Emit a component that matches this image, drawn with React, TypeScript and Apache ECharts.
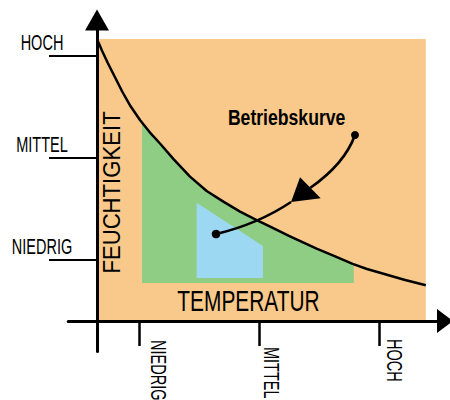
import React, { useEffect, useRef } from "react";
import * as echarts from "echarts";

// ---- data (axis units) ----
const xTickLabels = ["NIEDRIG", "MITTEL", "HOCH"];
const xTickValues = [35, 135, 235];
const yTickLabels = ["NIEDRIG", "MITTEL", "HOCH"];
const yTickValues = [60, 160, 260];

const xName = "TEMPERATUR";
const yName = "FEUCHTIGKEIT";
const curveName = "Betriebskurve";

// operating curve (Betriebskurve)
const curvePoints = [
  [0, 276], [2, 271], [4, 265.5], [9, 253], [15, 239], [21, 225], [28, 210.5],
  [35.8, 197], [44, 185], [52.5, 174], [63.6, 159], [77.5, 141.5], [91.4, 127.5],
  [105.3, 117], [119.2, 107.2], [133.1, 99], [146.9, 91], [160.8, 83],
  [169, 78.5], [183, 71], [197, 64], [213, 56], [225, 51], [238, 46.5],
  [256, 40.5], [274, 35],
];
// orange background region (top edge, filled to 0)
const orangeTop = [[0.8, 276.5], [274, 276.5]];
const orangeBase = 0;
// green region (top edge follows curve)
const greenTop = [
  [37.5, 194.7], [44, 185], [52.5, 174], [63.6, 159], [77.5, 141.5], [91.4, 127.5],
  [105.3, 117], [119.2, 107.2], [133.1, 99], [146.9, 91], [160.8, 83],
  [169, 78.5], [183, 71], [197, 64], [214, 55.5],
];
const greenBase = 37.3;
// blue region
const blueTop = [[83, 116], [138.3, 73.5]];
const blueBase = 42.2;

// annotation anchors (axis units)
const annDotStart = [215, 182.4];
const annCp1 = [206.5, 154.3];
const annArrowBase = [177.8, 130.6];
const annArrowTip = [161.7, 116.7];
const annArrowC1 = [169.2, 140.9];
const annArrowC2 = [186.4, 120.3];
const annCp2 = [134.2, 95.1];
const annDotEnd = [99.2, 85.3];
const annLabelPos = [158, 200];
const xNamePos = [126.2, 20.3];
const yNamePos = [12.25, 126];

// ---- style ----
const ORANGE = "#F8C98A";
const GREEN = "#8FCD84";
const BLUE = "#9DD8F3";
const INK = "#000000";
const FONT = "'Liberation Sans', Arial, sans-serif";

const option: any = {
  animation: false,
  grid: { left: 68.2, top: 20.1, width: 376.8, height: 331.5, containLabel: false },
  xAxis: {
    type: "value",
    min: -24,
    max: 290,
    z: 10,
    splitLine: { show: false },
    axisLabel: { show: false },
    axisLine: {
      show: true,
      onZero: true,
      symbol: ["none", "triangle"],
      symbolSize: [24, 16],
      lineStyle: { color: INK, width: 3 },
    },
    axisTick: {
      show: true,
      customValues: xTickValues,
      length: 25,
      lineStyle: { color: INK, width: 2.5 },
    },
  },
  yAxis: {
    type: "value",
    min: -30,
    max: 295,
    z: 10,
    splitLine: { show: false },
    axisLabel: { show: false },
    axisLine: {
      show: true,
      onZero: true,
      symbol: ["none", "triangle"],
      symbolSize: [24, 21],
      lineStyle: { color: INK, width: 3 },
    },
    axisTick: {
      show: true,
      customValues: yTickValues,
      length: 48,
      lineStyle: { color: INK, width: 2 },
    },
  },
  series: [
    {
      type: "line",
      data: orangeTop,
      symbol: "none",
      silent: true,
      lineStyle: { width: 0, opacity: 0 },
      areaStyle: { color: ORANGE, opacity: 1, origin: orangeBase },
      z: 1,
    },
    {
      type: "line",
      data: greenTop,
      symbol: "none",
      smooth: false,
      silent: true,
      lineStyle: { width: 0, opacity: 0 },
      areaStyle: { color: GREEN, opacity: 1, origin: greenBase },
      z: 2,
    },
    {
      type: "line",
      data: blueTop,
      symbol: "none",
      silent: true,
      lineStyle: { width: 0, opacity: 0 },
      areaStyle: { color: BLUE, opacity: 1, origin: blueBase },
      z: 3,
    },
    {
      type: "line",
      name: curveName,
      data: curvePoints,
      symbol: "none",
      smooth: false,
      silent: true,
      lineStyle: { color: INK, width: 2.5, join: "round" },
      z: 4,
    },
  ],
};

function textEl(text: string, pos: number[], o: any) {
  return {
    type: "text",
    x: pos[0],
    y: pos[1],
    rotation: o.rotation || 0,
    scaleX: o.scaleX || 1,
    scaleY: o.scaleY || 1,
    z: 100,
    style: {
      text,
      fill: INK,
      fontFamily: FONT,
      fontSize: o.fontSize,
      fontWeight: o.fontWeight || "normal",
      align: o.align || "center",
      textAlign: o.align || "center",
      verticalAlign: "middle",
      textVerticalAlign: "middle",
    },
  };
}

export default function App() {
  const ref = useRef<HTMLDivElement>(null);
  useEffect(() => {
    const chart = echarts.init(ref.current as HTMLDivElement, null, { renderer: "svg" });
    chart.setOption(option);
    const p = (v: number[]) => chart.convertToPixel({ gridIndex: 0 }, v) as number[];
    const origin = p([0, 0]);
    const els: any[] = [];

    // y tick labels
    yTickValues.forEach((v, i) => {
      const q = p([0, v]);
      els.push(textEl(yTickLabels[i], [origin[0] - 55, q[1] - 13], { fontSize: 22, scaleX: 0.66 }));
    });
    // x tick labels (rotated, reading downward)
    const xdx = [20, 13, 16];
    const xdy = [19, 26, 18];
    xTickValues.forEach((v, i) => {
      const q = p([v, 0]);
      els.push(
        textEl(xTickLabels[i], [q[0] + xdx[i], origin[1] + xdy[i]], {
          fontSize: 22,
          scaleX: 0.66,
          rotation: -Math.PI / 2,
          align: "left",
        })
      );
    });
    // axis names
    els.push(textEl(xName, p(xNamePos), { fontSize: 29, scaleX: 0.72 }));
    els.push(textEl(yName, p(yNamePos), { fontSize: 23.3, scaleX: 0.95, rotation: Math.PI / 2 }));
    // annotation
    els.push(textEl(curveName, p(annLabelPos), { fontSize: 22.3, scaleX: 0.79, fontWeight: "bold" }));
    const d0 = p(annDotStart), c1 = p(annCp1), ab = p(annArrowBase);
    const at = p(annArrowTip), ac1 = p(annArrowC1), ac2 = p(annArrowC2);
    const c2 = p(annCp2), d1 = p(annDotEnd);
    els.push({
      type: "bezierCurve",
      z: 90,
      shape: { x1: d0[0], y1: d0[1], cpx1: c1[0], cpy1: c1[1], x2: ab[0], y2: ab[1] },
      style: { stroke: INK, lineWidth: 2.6, fill: null },
    });
    els.push({
      type: "bezierCurve",
      z: 90,
      shape: { x1: at[0], y1: at[1], cpx1: c2[0], cpy1: c2[1], x2: d1[0], y2: d1[1] },
      style: { stroke: INK, lineWidth: 2.6, fill: null },
    });
    els.push({
      type: "polygon",
      z: 91,
      shape: { points: [at, ac1, ac2] },
      style: { fill: INK },
    });
    els.push({ type: "circle", z: 92, shape: { cx: d0[0], cy: d0[1], r: 4 }, style: { fill: INK } });
    els.push({ type: "circle", z: 92, shape: { cx: d1[0], cy: d1[1], r: 4.3 }, style: { fill: INK } });

    chart.setOption({ graphic: { elements: els } });
    return () => chart.dispose();
  }, []);
  return (
    <div
      ref={ref}
      style={{ position: "fixed", left: 0, top: 0, width: 450, height: 400, background: "#fff" }}
    />
  );
}
